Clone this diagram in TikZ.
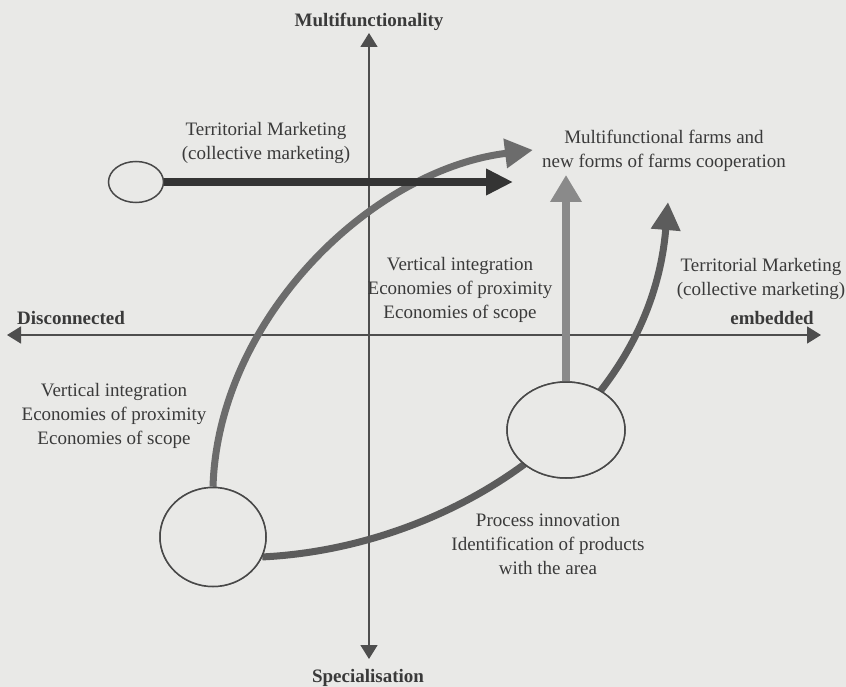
\documentclass[tikz,border=0pt]{standalone}
\usepackage{fontspec}
\setmainfont{Liberation Serif}
\usetikzlibrary{arrows.meta,shapes.geometric}
\definecolor{paper}{RGB}{233,233,231}
\definecolor{ink}{RGB}{58,58,58}
\definecolor{axisc}{RGB}{78,78,78}
\definecolor{ringc}{RGB}{72,72,72}
\definecolor{darkarrow}{RGB}{52,52,52}
\definecolor{midgray}{RGB}{108,108,108}
\definecolor{lightgray}{RGB}{138,138,138}
\definecolor{deepgray}{RGB}{92,92,92}
\begin{document}
\begin{tikzpicture}[x=1pt,y=-1pt,
  lbl/.style={text=ink, align=center, font=\fontsize{19}{24}\selectfont, inner sep=0pt},
  axislbl/.style={text=ink, font=\fontsize{19}{24}\selectfont\bfseries, inner sep=0pt},
  axisline/.style={draw=axisc, line width=1.6pt, -{Triangle[length=14pt,width=17pt]}},
  bigarrow/.style={line width=7pt, -{Triangle[length=28pt,width=28pt]}},
  stage/.style={ellipse, draw=ringc, line width=1.5pt, fill=paper, inner sep=0pt}]

% paper
\fill[paper] (0,0) rectangle (846,687);
\useasboundingbox (0,0) rectangle (846,687);

% axis end points
\coordinate (ytop) at (369,33);
\coordinate (ybot) at (369,659);
\coordinate (xl) at (7,335);
\coordinate (xr) at (821,335);
\coordinate (org) at (369,335);

% axes
\draw[axisline] (org) -- (ytop);
\draw[axisline] (org) -- (ybot);
\draw[axisline] (org) -- (xl);
\draw[axisline] (org) -- (xr);

% axis labels
\node[axislbl] (multi) at (369,22) {Multifunctionality};
\node[axislbl] (spec) at (368,678) {Specialisation};
\node[axislbl, anchor=west] (disc) at (17,318) {Disconnected};
\node[axislbl, anchor=east] (emb) at (814,318) {embedded};

% development stages
\node[stage, minimum width=55pt, minimum height=41pt] (tl) at (136,182) {};
\node[stage, minimum width=106pt, minimum height=99pt] (ll) at (213,537) {};
\node[stage, minimum width=118pt, minimum height=96pt] (rc) at (566,430) {};

% arrow tips
\coordinate (tipA) at (513,182);
\coordinate (tipB) at (533,150);
\coordinate (tipC) at (567,175);
\coordinate (tipD) at (668,202);

% paths of change
\draw[bigarrow, draw=midgray] (ll.north) .. controls (218,320) and (370,170) .. (tipB);
\draw[bigarrow, draw=deepgray] (ll.-22) .. controls (450,548) and (650,420) .. (tipD);
\draw[bigarrow, draw=darkarrow, line width=8pt, -{Triangle[length=27pt,width=25pt]}] (tl.east) -- (tipA);

% stages drawn again over the paths
\node[stage, minimum width=106pt, minimum height=99pt] at (ll) {};
\node[stage, minimum width=118pt, minimum height=96pt] at (rc) {};
\draw[bigarrow, draw=lightgray, line width=7.5pt, -{Triangle[length=27pt,width=30pt]}] (rc.north) -- (rc.north |- tipC);

% labels
\node[lbl] (tmL) at (266,143) {Territorial Marketing\\(collective marketing)};
\node[lbl] (mff) at (664,151) {Multifunctional farms and\\new forms of farms cooperation};
\node[lbl] (vimid) at (460,290) {Vertical integration\\Economies of proximity\\Economies of scope};
\node[lbl] (tmR) at (761,279) {Territorial Marketing\\(collective marketing)};
\node[lbl] (vileft) at (114,416) {Vertical integration\\Economies of proximity\\Economies of scope};
\node[lbl] (proc) at (548,544) {Process innovation\\Identification of products\\with the area};
\end{tikzpicture}
\end{document}
